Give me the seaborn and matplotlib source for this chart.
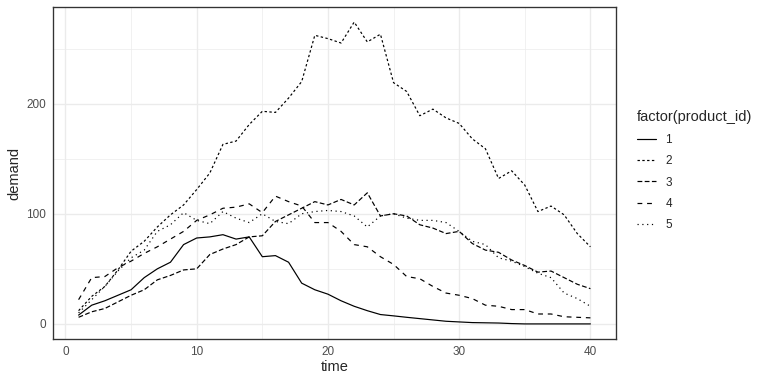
import numpy as np
import pandas as pd
import seaborn as sns
import matplotlib.pyplot as plt
from matplotlib.lines import Line2D
from matplotlib.ticker import FixedLocator

# dati (demand per product_id, time 1..40)
time = list(range(1, 41))
demand_1 = [8, 17, 21, 26, 31, 42, 50, 56, 72, 78, 79, 81, 77, 79, 61, 62, 56, 37, 31, 27,
            21, 16, 12, 8.5, 7.3, 6, 4.8, 3.6, 2.4, 1.8, 1.2, 1.0, 0.8, 0.3, 0, 0, 0, 0, 0, 0]
demand_2 = [12, 25, 34, 49, 66, 75, 88, 99, 108, 122, 137, 163, 166, 181, 193, 192, 205, 220, 262, 259,
            255, 274, 256, 263, 219, 211, 189, 195, 187, 182, 168, 159, 132, 139, 126, 102, 107, 99, 82, 70]
demand_3 = [6, 11, 14, 20, 26, 31, 40, 44, 49, 50, 63, 68, 72, 79, 80, 93, 99, 105, 111, 108,
            113, 108, 119, 98, 100, 98, 90, 87, 82, 84, 73, 67, 65, 58, 53, 47, 48, 42, 36, 32]
demand_4 = [22, 42, 43, 51, 57, 64, 70, 77, 84, 94, 99, 105, 106, 109, 101, 116, 111, 107, 92, 92,
            84, 72, 70, 61, 54, 43, 41, 34, 28, 26, 23, 17, 16, 13, 13, 9, 9, 6.5, 6, 5.5]
demand_5 = [10, 22, 34, 48, 60, 67, 84, 90, 101, 94, 91, 102, 96, 92, 100, 93, 91, 100, 102, 103,
            102, 98, 88, 98, 100, 96, 94, 94, 92, 84, 75, 72, 60, 57, 52, 46, 42, 28, 23, 16]
product_ids = ['1', '2', '3', '4', '5']
series = [demand_1, demand_2, demand_3, demand_4, demand_5]

df = pd.concat([pd.DataFrame({'time': time, 'demand': d, 'product_id': p})
                for p, d in zip(product_ids, series)], ignore_index=True)

# linetype come in ggplot: solid, 22, 42, 44, 13
dash_map = {'1': '', '2': (2, 2), '3': (4, 2), '4': (4, 4), '5': (1, 3)}

sns.set_style('white')
plt.rcParams['font.family'] = ['Liberation Sans', 'DejaVu Sans']

fig = plt.figure(figsize=(8, 4), dpi=96)
ax = fig.add_axes([53 / 768, 1 - 339 / 384, (616 - 53) / 768, (339 - 7) / 384])

lw = 0.9
sns.lineplot(data=df, x='time', y='demand', style='product_id', dashes=dash_map,
             color='black', linewidth=lw, legend=False, ax=ax)

ax.set_xlim(-0.95, 41.95)
ax.set_ylim(-13.7, 287.7)
ax.set_xticks([0, 10, 20, 30, 40])
ax.set_yticks([0, 100, 200])
ax.xaxis.set_minor_locator(FixedLocator([5, 15, 25, 35]))
ax.yaxis.set_minor_locator(FixedLocator([50, 150, 250]))
ax.grid(which='major', color='#EBEBEB', linewidth=1.0)
ax.grid(which='minor', color='#EBEBEB', linewidth=0.5)
ax.set_axisbelow(True)

for s in ax.spines.values():
    s.set_color('#333333')
    s.set_linewidth(1.0)
ax.tick_params(which='major', length=3, width=0.8, color='#333333',
               labelsize=8.8, labelcolor='#4D4D4D', pad=2)
ax.tick_params(which='minor', length=0)

ax.set_xlabel('time', fontsize=11, labelpad=2)
ax.set_ylabel('demand', fontsize=11, labelpad=4)

handles = [Line2D([], [], color='black', linewidth=lw,
                  linestyle='-' if dash_map[p] == '' else (0, dash_map[p]))
           for p in product_ids]
leg = fig.legend(handles, product_ids, title='factor(product_id)', loc='center left',
                 bbox_to_anchor=(0.816, 0.555), frameon=False, fontsize=8.8,
                 title_fontsize=11, handlelength=1.6, handletextpad=0.8,
                 labelspacing=0.8, alignment='left')

fig.savefig('out.png', dpi=96)
